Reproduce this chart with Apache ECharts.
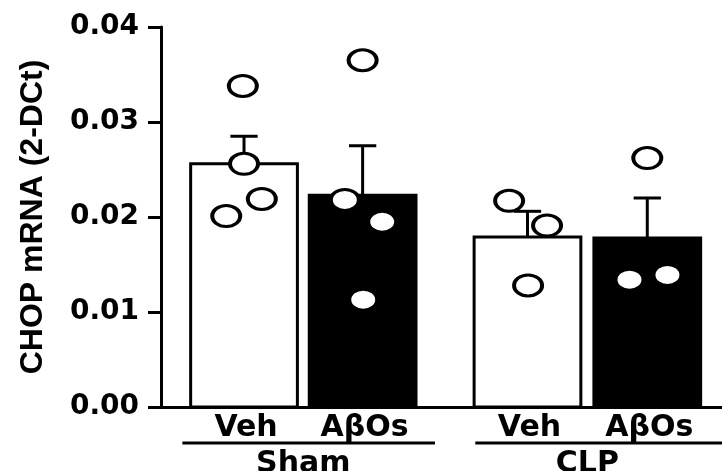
<!DOCTYPE html>
<html><head><meta charset="utf-8">
<script src="https://cdn.jsdelivr.net/npm/echarts@6/dist/echarts.min.js"></script>
<style>html,body{margin:0;padding:0;background:#fff}#c{width:722px;height:471px}</style>
</head><body><div id="c"></div>
<script>
// ---- data ----
const yTicks = ['0.00', '0.01', '0.02', '0.03', '0.04'];
const barLabels = ['Veh', 'AβOs', 'Veh', 'AβOs'];
const groupLabels = ['Sham', 'CLP'];
const barPos = [0, 1, 2.39, 3.4];
const barMeans = [0.0256, 0.0223, 0.0179, 0.0178];
const barSem = [0.0029, 0.0052, 0.0027, 0.0042];
const barFill = ['#ffffff', '#000000', '#ffffff', '#000000'];
const shamVeh = [0.0338, 0.0256, 0.0219, 0.0201];
const shamAbos = [0.0365, 0.0218, 0.0195, 0.0113];
const clpVeh = [0.0217, 0.0191, 0.0128];
const clpAbos = [0.0262, 0.0134, 0.0139];
const jitter = [[-0.01, 0, 0.15, -0.15], [0, -0.15, 0.165, 0.005], [-0.155, 0.165, 0.005], [0, -0.15, 0.17]];
const groupSpan = [[-0.52, 1.61], [1.95, 4.03]];
const groupCenter = [0.5, 2.895];

// ---- chart ----
const BW = 0.9;
const CAP = 0.115;
const dotsAll = [shamVeh, shamAbos, clpVeh, clpAbos];
const dotData = [];
dotsAll.forEach((arr, i) => arr.forEach((v, j) => dotData.push([barPos[i] + jitter[i][j], v])));
const txt = {fontFamily: 'DejaVu Sans', fontWeight: 'bold', fontSize: 30, fill: '#000', align: 'center', verticalAlign: 'middle'};

const chart = echarts.init(document.getElementById('c'));
chart.setOption({
  animation: false,
  backgroundColor: '#fff',
  grid: {left: 161, right: 0, top: 27, bottom: 64, containLabel: false, outerBoundsMode: 'none'},
  xAxis: {
    type: 'value', min: -0.7, max: 4.03,
    axisLine: {show: true, onZero: false, lineStyle: {color: '#000', width: 3}},
    axisTick: {show: false}, axisLabel: {show: false}, splitLine: {show: false}
  },
  yAxis: {
    type: 'value', min: 0, max: 0.04, interval: 0.01,
    name: 'CHOP mRNA (2-DCt)', nameLocation: 'middle', nameGap: 112,
    nameTextStyle: {fontFamily: 'Liberation Sans', fontWeight: 'bold', fontSize: 32, color: '#000'},
    axisLine: {show: true, onZero: false, lineStyle: {color: '#000', width: 3}},
    axisTick: {show: true, length: 13, lineStyle: {color: '#000', width: 3}},
    axisLabel: {margin: 22, color: '#000', fontFamily: 'DejaVu Sans', fontWeight: 'bold', fontSize: 28,
      formatter: v => yTicks[Math.round(v / 0.01)]},
    splitLine: {show: false}
  },
  series: [
    {
      type: 'custom', clip: false, z: 2,
      data: barPos.map((p, i) => [p, barMeans[i]]),
      renderItem(params, api) {
        const p = api.value(0), v = api.value(1);
        const a = api.coord([p - BW / 2, v]);
        const b = api.coord([p + BW / 2, 0]);
        return {type: 'rect', shape: {x: a[0], y: a[1], width: b[0] - a[0], height: b[1] - a[1]},
          style: {fill: barFill[params.dataIndex], stroke: '#000', lineWidth: 3}};
      }
    },
    {
      type: 'custom', clip: false, z: 3,
      data: barPos.map((p, i) => [p, barMeans[i], barMeans[i] + barSem[i]]),
      renderItem(params, api) {
        const p = api.value(0);
        const lo = api.coord([p, api.value(1)]);
        const hi = api.coord([p, api.value(2)]);
        const cl = api.coord([p - CAP, api.value(2)]);
        const cr = api.coord([p + CAP, api.value(2)]);
        return {type: 'group', children: [
          {type: 'line', shape: {x1: lo[0], y1: lo[1], x2: hi[0], y2: hi[1]}, style: {stroke: '#000', lineWidth: 3}},
          {type: 'line', shape: {x1: cl[0], y1: cl[1], x2: cr[0], y2: cr[1]}, style: {stroke: '#000', lineWidth: 3}}
        ]};
      }
    },
    {
      type: 'scatter', z: 4,
      symbol: 'path://M50,0A50,50,0,1,1,50,100A50,50,0,1,1,50,0Z',
      symbolSize: [28, 21],
      itemStyle: {color: '#fff', borderColor: '#000', borderWidth: 3.5, opacity: 1},
      data: dotData
    },
    {
      type: 'custom', clip: false, z: 5,
      data: barPos.map(p => [p, 0]),
      renderItem(params, api) {
        const c = api.coord([api.value(0), 0]);
        return {type: 'text', x: c[0] + 2, y: c[1] + 21, style: Object.assign({text: barLabels[params.dataIndex]}, txt)};
      }
    },
    {
      type: 'custom', clip: false, z: 5,
      data: groupCenter.map(p => [p, 0]),
      renderItem(params, api) {
        const s = groupSpan[params.dataIndex];
        const l = api.coord([s[0], 0]);
        const r = api.coord([s[1], 0]);
        const c = api.coord([api.value(0), 0]);
        return {type: 'group', children: [
          {type: 'line', shape: {x1: l[0], y1: l[1] + 36, x2: r[0], y2: r[1] + 36}, style: {stroke: '#000', lineWidth: 3}},
          {type: 'text', x: c[0], y: c[1] + 57, style: Object.assign({text: groupLabels[params.dataIndex]}, txt)}
        ]};
      }
    }
  ]
});
</script>
</body></html>
